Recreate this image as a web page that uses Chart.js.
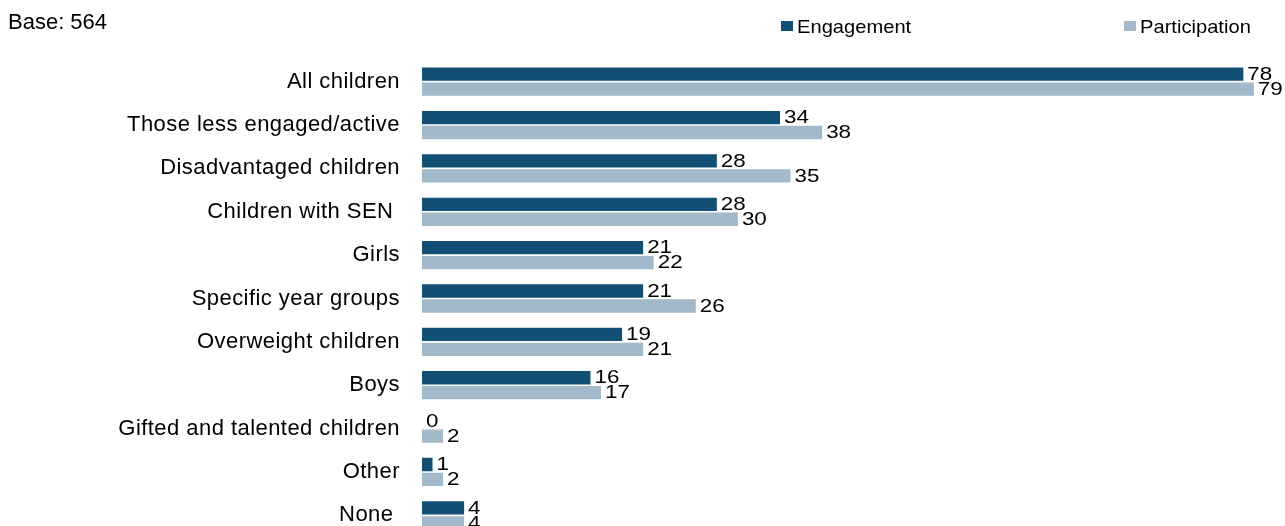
<!DOCTYPE html>
<html>
<head>
<meta charset="utf-8">
<script src="https://cdn.jsdelivr.net/npm/chart.js@4/dist/chart.umd.min.js"></script>
<style>
  html, body { margin: 0; padding: 0; background: #fff; overflow: hidden; }
  #wrap { position: relative; width: 1285px; height: 540px; }
</style>
</head>
<body>
<div id="wrap"><canvas id="chart"></canvas></div>
<script>
// Target groups, one bar pair per group
const categories = [
  'All children',
  'Those less engaged/active',
  'Disadvantaged children',
  'Children with SEN ',
  'Girls',
  'Specific year groups',
  'Overweight children',
  'Boys',
  'Gifted and talented children',
  'Other',
  'None '
];
const engagement    = [78, 34, 28, 28, 21, 21, 19, 16, 0, 1, 4];
const participation = [79, 38, 35, 30, 22, 26, 21, 17, 2, 2, 4];
const seriesNames   = ['Engagement', 'Participation'];
const seriesColors  = ['#124f74', '#a1b9c8'];
const baseNote      = 'Base: 564';

const FONT = '"Liberation Sans", Arial, sans-serif';

// Slightly open letter spacing for the category labels only
const labelSpacing = {
  id: 'labelSpacing',
  beforeDraw(chart) { chart.ctx.letterSpacing = '0.45px'; },
  beforeDatasetsDraw(chart) { chart.ctx.letterSpacing = '0px'; }
};

// Value labels at the end of each bar, slightly widened digits
const valueLabels = {
  id: 'valueLabels',
  afterDatasetsDraw(chart) {
    const ctx = chart.ctx;
    ctx.save();
    ctx.fillStyle = '#000';
    ctx.font = '19px ' + FONT;
    ctx.textAlign = 'left';
    ctx.textBaseline = 'middle';
    chart.data.datasets.forEach((ds, i) => {
      const meta = chart.getDatasetMeta(i);
      meta.data.forEach((bar, j) => {
        ctx.save();
        ctx.translate(bar.x + 4, bar.y + 0.5);
        ctx.scale(1.18, 1);
        ctx.fillText(String(ds.data[j]), 0, 0);
        ctx.restore();
      });
    });
    ctx.restore();
  }
};

// Base note and legend along the top edge
const header = {
  id: 'header',
  afterDraw(chart) {
    const ctx = chart.ctx;
    ctx.save();
    ctx.letterSpacing = '0px';
    ctx.fillStyle = '#000';
    ctx.textBaseline = 'middle';
    ctx.textAlign = 'left';
    ctx.font = '22px ' + FONT;
    ctx.fillText(baseNote, 8, 22.5);

    const items = [{ x: 781 }, { x: 1124 }];
    chart.data.datasets.forEach((ds, i) => {
      const x = items[i].x;
      ctx.fillStyle = ds.backgroundColor;
      ctx.fillRect(x, 21, 12, 10);
      ctx.fillStyle = '#000';
      ctx.save();
      ctx.translate(x + 16, 28);
      ctx.scale(1.06, 1);
      ctx.font = '19px ' + FONT;
      ctx.fillText(ds.label, 0, 0);
      ctx.restore();
    });
    ctx.restore();
  }
};

new Chart(document.getElementById('chart'), {
  type: 'bar',
  data: {
    labels: categories,
    datasets: [
      { label: seriesNames[0], data: engagement,    backgroundColor: seriesColors[0] },
      { label: seriesNames[1], data: participation, backgroundColor: seriesColors[1] }
    ]
  },
  options: {
    indexAxis: 'y',
    responsive: true,
    maintainAspectRatio: false,
    animation: false,
    datasets: {
      bar: { categoryPercentage: 0.69, barPercentage: 0.89 }
    },
    layout: { padding: { top: 60, right: 20.6, bottom: 3, left: 0 } },
    plugins: {
      legend: { display: false },
      tooltip: { enabled: false }
    },
    scales: {
      x: { display: false, min: 0, max: 80 },
      y: {
        grid: { display: false, drawTicks: false },
        border: { display: false },
        ticks: {
          color: '#000',
          padding: 22,
          font: { family: FONT, size: 22 }
        },
        afterFit(scale) {
          scale.width = 422;
          scale.paddingTop = 0;
          scale.paddingBottom = 0;
        }
      }
    }
  },
  plugins: [labelSpacing, valueLabels, header]
});
</script>
</body>
</html>
